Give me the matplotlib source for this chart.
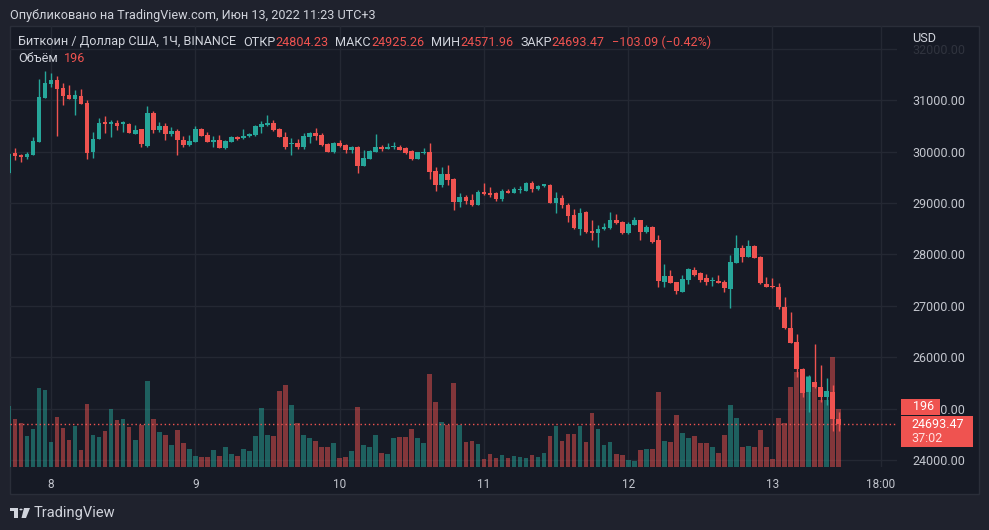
import matplotlib.pyplot as plt
from matplotlib.patches import Rectangle, Polygon, Circle
import numpy as np

W, H, DPI = 989, 530, 100

# hourly candles, Jun 7 17:00 .. Jun 13 11:00 (UTC+3)
opens = [29580, 29965, 29932, 29900, 29938, 30190, 31047, 31313, 31391, 31235,
         31105, 31027, 31080, 30949, 29996, 30237, 30568, 30535, 30560, 30535,
         30535, 30340, 30432, 30107, 30755, 30418, 30502, 30340, 30405, 30224,
         30126, 30190, 30432, 30321, 30190, 30224, 30062, 30190, 30288, 30257,
         30300, 30315, 30470, 30510, 30560, 30432, 30288, 30140, 30160, 30093,
         30288, 30366, 30321, 30146, 29984, 30171, 30126, 30029, 30093, 29718,
         29854, 29996, 30093, 30055, 30080, 30093, 30062, 30016, 29854, 29965,
         29996, 29626, 29348, 29562, 29459, 29023, 29120, 29057, 28959, 29218,
         29200, 29200, 29070, 29237, 29198, 29250, 29237, 29393, 29264, 29329,
         29348, 29004, 29090, 28959, 28765, 28486, 28829, 28453, 28420, 28486,
         28506, 28667, 28634, 28408, 28570, 28667, 28428, 28537, 28278, 27467,
         27578, 27467, 27272, 27500, 27695, 27630, 27533, 27480, 27490, 27467,
         27325, 27837, 28117, 27953, 28162, 27953, 27422, 27384, 27370, 26969,
         26560, 26300, 25769, 25327, 25522, 25412, 25218, 25327, 24804.23]
highs = [29970, 30060, 29951, 29984, 30276, 31410, 31566, 31521, 31469, 31327,
         31294, 31196, 31210, 31002, 30385, 30646, 30691, 30613, 30613, 30600,
         30560, 30515, 30440, 30885, 30788, 30574, 30548, 30483, 30432, 30301,
         30321, 30496, 30463, 30385, 30300, 30321, 30230, 30300, 30300, 30432,
         30366, 30515, 30600, 30710, 30613, 30451, 30379, 30257, 30237, 30366,
         30385, 30451, 30354, 30171, 30191, 30224, 30146, 30107, 30107, 30029,
         30029, 30340, 30126, 30171, 30191, 30126, 30093, 30029, 30000, 30062,
         30171, 29693, 29704, 29737, 29479, 29187, 29154, 29173, 29251, 29393,
         29303, 29218, 29264, 29264, 29303, 29329, 29412, 29432, 29340, 29368,
         29368, 29218, 29154, 28992, 28876, 28895, 28835, 28667, 28570, 28603,
         28817, 28784, 28654, 28634, 28720, 28675, 28570, 28550, 28376, 27811,
         27695, 27470, 27597, 27728, 27747, 27662, 27617, 27553, 27597, 27500,
         27987, 28376, 28181, 28278, 28181, 27967, 27553, 27533, 27436, 27164,
         26883, 26449, 25782, 25652, 26255, 25847, 25588, 25457, 24925.26]
lows = [29570, 29835, 29790, 29854, 29930, 30190, 31047, 31249, 30302, 30899,
        31015, 30710, 30920, 29848, 29867, 30237, 30366, 30288, 30418, 30380,
        30360, 30340, 30082, 30082, 30354, 30385, 30224, 30300, 29932, 30093,
        30107, 30190, 30300, 30190, 30090, 30062, 30050, 30180, 30220, 30250,
        30290, 30310, 30366, 30505, 30405, 30280, 30043, 29932, 30049, 30043,
        30171, 30224, 30113, 29984, 29965, 30093, 29977, 29965, 29588, 29710,
        29850, 29990, 30016, 30043, 30043, 30025, 29951, 29835, 29850, 29951,
        29459, 29237, 29303, 29348, 28862, 28926, 28979, 28940, 28955, 29154,
        29120, 29043, 29043, 29187, 29190, 29198, 29230, 29218, 29260, 29303,
        28992, 28798, 28895, 28634, 28486, 28376, 28420, 28278, 28148, 28473,
        28500, 28590, 28395, 28400, 28565, 28278, 28408, 28214, 27370, 27358,
        27436, 27228, 27265, 27422, 27578, 27467, 27403, 27384, 27436, 27272,
        26949, 27830, 27856, 27940, 27922, 27422, 27358, 27339, 26930, 26541,
        26268, 25619, 25230, 24938, 25393, 25132, 25068, 24568, 24571.96]
closes = [29960, 29918, 29900, 29951, 30205, 31066, 31339, 31391, 31210, 31080,
          31027, 31105, 30930, 29977, 30243, 30560, 30529, 30568, 30496, 30568,
          30366, 30418, 30146, 30743, 30418, 30502, 30340, 30405, 30224, 30126,
          30205, 30432, 30302, 30190, 30230, 30062, 30205, 30276, 30243, 30300,
          30340, 30496, 30535, 30560, 30418, 30288, 30093, 30171, 30082, 30300,
          30366, 30300, 30126, 29996, 30171, 30107, 30029, 30093, 29718, 29868,
          30016, 30082, 30043, 30093, 30100, 30029, 29977, 29854, 29996, 29996,
          29607, 29348, 29562, 29445, 29023, 29120, 29043, 28959, 29218, 29173,
          29154, 29070, 29237, 29198, 29264, 29275, 29393, 29264, 29329, 29360,
          29004, 29090, 28953, 28745, 28506, 28809, 28440, 28420, 28492, 28537,
          28667, 28615, 28408, 28590, 28667, 28440, 28537, 28245, 27487, 27578,
          27448, 27292, 27514, 27708, 27597, 27500, 27467, 27500, 27448, 27339,
          27856, 28117, 27953, 28162, 27934, 27436, 27370, 27358, 26969, 26560,
          26280, 25763, 25307, 25619, 25412, 25218, 25347, 24796.56, 24693.47]
volumes = [204, 160, 149, 104, 127, 265, 257, 84, 167, 131,
           92, 137, 56, 212, 106, 100, 120, 194, 157, 160,
           133, 92, 141, 288, 160, 116, 106, 73, 123, 80,
           59, 36, 33, 33, 56, 36, 66, 43, 36, 59,
           53, 104, 198, 106, 104, 254, 274, 207, 147, 106,
           96, 86, 66, 66, 80, 29, 33, 53, 200, 73,
           66, 106, 46, 43, 96, 100, 100, 127, 96, 80,
           311, 217, 150, 142, 283, 140, 83, 87, 76, 26,
           43, 29, 39, 29, 36, 33, 29, 39, 33, 46,
           103, 137, 86, 110, 110, 137, 83, 181, 127, 73,
           83, 43, 39, 22, 20, 56, 59, 59, 251, 86,
           83, 174, 113, 96, 103, 80, 80, 66, 46, 106,
           207, 163, 66, 69, 66, 123, 66, 26, 163, 147,
           268, 319, 252, 304, 268, 226, 224, 369, 196]

day_ticks = [7, 31, 55, 79, 103, 127, 145]
day_labels = ["8", "9", "10", "11", "12", "13", "18:00"]
price_ticks = [24000, 25000, 26000, 27000, 28000, 29000, 30000, 31000, 32000]

UP, DOWN = "#26a69a", "#ef5350"
BG, PANE = "#1f222d", "#161a25"
GRID = "#242833"
TXT = "#d1d4dc"
AXTXT = "#c3c6ce"
FS = 9.1

plt.rcParams["font.family"] = ["Roboto", "DejaVu Sans"]

fig = plt.figure(figsize=(W / DPI, H / DPI), dpi=DPI, facecolor=BG)


def fx(px):
    return px / W


def fy(py):
    return 1 - py / H


# pane frame (chart + scales)
fig.patches.append(Rectangle((fx(10), fy(494)), fx(969), 468 / H,
                             transform=fig.transFigure, facecolor=PANE,
                             edgecolor="#2a2e39", lw=1, zorder=-5))

ax = fig.add_axes([fx(10), fy(467), fx(887), 441 / H])
ax.patch.set_alpha(0)
for s in ax.spines.values():
    s.set_visible(False)

x0 = (10 - 8.9) / 6.0125
x1 = (897 - 8.9) / 6.0125
ax.set_xlim(x0, x1)
ax.set_ylim(23862, 32442)

# volume pane, drawn under the candles
vax = fig.add_axes(ax.get_position(), sharex=ax)
vax.set_ylim(0, 1480)
vax.axis("off")
vax.set_zorder(0.5)
ax.set_zorder(1)

idx = np.arange(len(opens))
o = np.array(opens)
c = np.array(closes)
up = c >= o
colors = np.where(up, UP, DOWN)

vax.bar(idx, volumes, width=0.78, color=colors, alpha=0.5, lw=0)

# grid
for p in price_ticks:
    vax.axhline(p * 0 + (p - 23862) / (32442 - 23862) * 1480, color=GRID, lw=1, zorder=0)
for t in day_ticks:
    vax.axvline(t, color=GRID, lw=1, zorder=0)

# candles
ax.vlines(idx, lows, highs, colors=colors, lw=1, zorder=3)
body_lo = np.minimum(o, c)
body_h = np.maximum(np.abs(c - o), 20)
ax.bar(idx, body_h, bottom=body_lo, width=0.78, color=colors, lw=0, zorder=4)

# last price line
ax.axhline(closes[-1], color=DOWN, lw=1, ls=(0, (1, 2)), zorder=5)

# axes ticks
ax.set_xticks(day_ticks)
ax.set_xticklabels(day_labels)
ax.tick_params(axis="x", length=0, pad=8, colors=AXTXT, labelsize=8.5)
ax.yaxis.tick_right()
ax.set_yticks(price_ticks)
ax.set_yticklabels([f"{p:.2f}" for p in price_ticks])
ax.tick_params(axis="y", length=0, pad=11, colors=AXTXT, labelsize=9)
ax.get_yticklabels()[-1].set_alpha(0.15)

# header texts
fig.text(fx(10), fy(15), "Опубликовано на TradingView.com, Июн 13, 2022 11:23 UTC+3",
         color=TXT, fontsize=FS, va="center")

# legend line, pieces chained one after another
fig.canvas.draw()
renderer = fig.canvas.get_renderer()
parts = [("Биткоин / Доллар США, 1Ч, BINANCE", TXT, 7), ("ОТКР", TXT, 0), ("24804.23", DOWN, 7),
         ("МАКС", TXT, 0), ("24925.26", DOWN, 7), ("МИН", TXT, 0), ("24571.96", DOWN, 7),
         ("ЗАКР", TXT, 0), ("24693.47", DOWN, 7), ("\u2212103.09 (\u22120.42%)", DOWN, 0)]
xpos = 18
for s, col, gap in parts:
    t = fig.text(fx(xpos), fy(42), s, color=col, fontsize=FS, va="center")
    xpos += t.get_window_extent(renderer).width + gap
fig.text(fx(18), fy(59), "Объём", color=TXT, fontsize=FS, va="center")
fig.text(fx(64), fy(59), f"{volumes[-1]}", color=DOWN, fontsize=FS, va="center")

fig.text(fx(912), fy(39), "USD", color=TXT, fontsize=FS, va="center")

# price scale labels for last bar
fig.patches.append(Rectangle((fx(901), fy(415)), fx(39), 16 / H,
                             transform=fig.transFigure, facecolor=DOWN, lw=0, zorder=5))
fig.text(fx(913), fy(407), f"{volumes[-1]}", color="white", fontsize=9, va="center", zorder=6)
fig.patches.append(Rectangle((fx(901), fy(447)), fx(72), 31 / H,
                             transform=fig.transFigure, facecolor=DOWN, lw=0, zorder=5))
fig.text(fx(911), fy(424), f"{closes[-1]:.2f}", color="white", fontsize=9, va="center", zorder=6)
fig.text(fx(911), fy(438.5), "37:02", color="#ffe0e0", fontsize=9, va="center", zorder=6)

# logo
fig.patches.append(Rectangle((fx(10), fy(511)), fx(8), 3 / H, transform=fig.transFigure,
                             facecolor=TXT, lw=0))
fig.patches.append(Rectangle((fx(14), fy(518)), fx(4), 10 / H, transform=fig.transFigure,
                             facecolor=TXT, lw=0))
fig.patches.append(Circle((fx(21), fy(509.5)), 1.6 / W, transform=fig.transFigure,
                          facecolor=TXT, lw=0))
fig.patches.append(Polygon([(fx(24), fy(508)), (fx(30), fy(508)), (fx(26), fy(518)), (fx(21.5), fy(518))],
                           closed=True, transform=fig.transFigure, facecolor=TXT, lw=0))
fig.text(fx(34), fy(513), "TradingView", color=TXT, fontsize=10.5, va="center")

plt.savefig("out.png", dpi=DPI, facecolor=BG)
